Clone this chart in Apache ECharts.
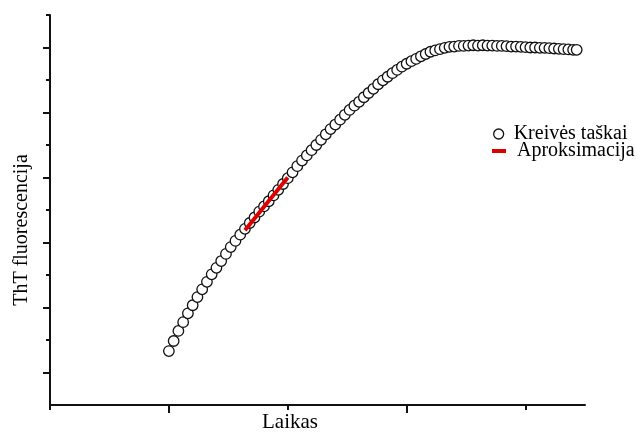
<!DOCTYPE html>
<html>
<head>
<meta charset="utf-8">
<script src="https://cdn.jsdelivr.net/npm/echarts@6/dist/echarts.min.js"></script>
<style>
html,body{margin:0;padding:0;background:#fff;}
#chart{width:637px;height:432px;}
</style>
</head>
<body>
<div id="chart"></div>
<script>
// Time (arbitrary units) of each measured point
var times = [10.0,10.4,10.8,11.2,11.6,12.0,12.4,12.8,13.2,13.6,
  14.0,14.4,14.8,15.2,15.6,16.0,16.4,16.8,17.2,17.6,
  18.0,18.4,18.8,19.2,19.6,20.0,20.4,20.8,21.2,21.6,
  22.0,22.4,22.8,23.2,23.6,24.0,24.4,24.8,25.2,25.6,
  26.0,26.4,26.8,27.2,27.6,28.0,28.4,28.8,29.2,29.6,
  30.0,30.4,30.8,31.2,31.6,32.0,32.4,32.8,33.2,33.6,
  34.0,34.4,34.8,35.2,35.6,36.0,36.4,36.8,37.2,37.6,
  38.0,38.4,38.8,39.2,39.6,40.0,40.4,40.8,41.2,41.6,
  42.0,42.4,42.8,43.2,43.6,44.0,44.3];
// ThT fluorescence (arbitrary units) of each point
var fluorescence = [1.66,1.97,2.28,2.55,2.82,3.07,3.32,3.56,3.79,4.02,
  4.22,4.43,4.65,4.86,5.05,5.24,5.42,5.60,5.77,5.95,
  6.11,6.27,6.45,6.62,6.80,6.98,7.16,7.35,7.52,7.68,
  7.84,8.00,8.16,8.33,8.49,8.63,8.78,8.93,9.08,9.21,
  9.33,9.47,9.60,9.73,9.87,9.99,10.10,10.21,10.31,10.41,
  10.50,10.58,10.65,10.73,10.80,10.87,10.91,10.95,10.99,11.02,
  11.03,11.05,11.05,11.06,11.07,11.06,11.07,11.06,11.06,11.05,
  11.05,11.04,11.03,11.03,11.02,11.01,11.00,11.00,10.99,10.99,
  10.98,10.97,10.96,10.95,10.94,10.93,10.93];
// Linear approximation segment (start, end)
var fitTimes = [16.4, 20.0];
var fitValues = [5.38, 7.00];
// Tick positions
var xMajorTicks = [10, 30];
var xMinorTicks = [0, 20, 40];
var yMajorTicks = [1, 3, 5, 7, 9, 11];
var yMinorTicks = [2, 4, 6, 8, 10, 12];
var seriesNames = ['Kreivės taškai', 'Aproksimacija'];
var xTitle = 'Laikas';
var yTitle = 'ThT fluorescencija';

var points = times.map(function (t, i) { return [t, fluorescence[i]]; });
var fitLine = fitTimes.map(function (t, i) { return [t, fitValues[i]]; });

var FONT = "'Liberation Serif', 'Times New Roman', serif";
var AX = '#111';

function xAxisDef(ticks, len, showLine) {
  return {
    type: 'value', min: 0, max: 45, position: 'bottom', offset: 0,
    axisLine: { show: showLine, onZero: false, lineStyle: { color: AX, width: 2 } },
    axisTick: { show: true, inside: false, length: len, customValues: ticks, lineStyle: { color: AX, width: 2 } },
    axisLabel: { show: false },
    splitLine: { show: false }
  };
}
function yAxisDef(ticks, len, showLine) {
  return {
    type: 'value', min: 0, max: 12, position: 'left', offset: 0,
    axisLine: { show: showLine, onZero: false, lineStyle: { color: AX, width: 2 } },
    axisTick: { show: true, inside: false, length: len, customValues: ticks, lineStyle: { color: AX, width: 2 } },
    axisLabel: { show: false },
    splitLine: { show: false }
  };
}

var chart = echarts.init(document.getElementById('chart'), null, { renderer: 'canvas' });
chart.setOption({
  animation: false,
  backgroundColor: '#fff',
  grid: { left: 50, top: 15, right: 52, bottom: 27, containLabel: false },
  xAxis: [xAxisDef(xMajorTicks, 8, true), xAxisDef(xMinorTicks, 5, false)],
  yAxis: [yAxisDef(yMajorTicks, 7, true), yAxisDef(yMinorTicks, 4, false)],
  legend: [
    {
      data: [{ name: seriesNames[0], icon: 'circle', itemStyle: { color: '#fff', borderColor: '#111', borderWidth: 1.3 } }],
      left: 493, top: 124, padding: 0, itemWidth: 20, itemHeight: 10,
      textStyle: { fontFamily: FONT, fontSize: 20, color: '#000', lineHeight: 20 }
    },
    {
      data: [{ name: seriesNames[1], icon: 'rect' }],
      left: 492, top: 141, padding: 0, itemWidth: 14, itemHeight: 4,
      textStyle: { fontFamily: FONT, fontSize: 20, color: '#000', lineHeight: 20, padding: [0, 0, 0, 6] }
    }
  ],
  graphic: [
    { type: 'text', x: 22, y: 230, rotation: Math.PI / 2,
      style: { text: yTitle, font: "20px 'Liberation Serif'", fill: '#000', align: 'center', verticalAlign: 'middle' } },
    { type: 'text', x: 290, y: 412,
      style: { text: xTitle, font: "21px 'Liberation Serif'", fill: '#000', align: 'center', verticalAlign: 'top' } }
  ],
  series: [
    {
      name: seriesNames[0], type: 'scatter', data: points,
      xAxisIndex: 0, yAxisIndex: 0,
      symbol: 'circle', symbolSize: 10.5,
      itemStyle: { color: '#fff', borderColor: '#111', borderWidth: 1.3, opacity: 1 },
      z: 2
    },
    {
      name: seriesNames[1], type: 'line', data: fitLine,
      xAxisIndex: 0, yAxisIndex: 0,
      symbol: 'none', showSymbol: false,
      lineStyle: { color: '#dd0000', width: 4 },
      itemStyle: { color: '#dd0000' },
      z: 3
    }
  ]
});
</script>
</body>
</html>
